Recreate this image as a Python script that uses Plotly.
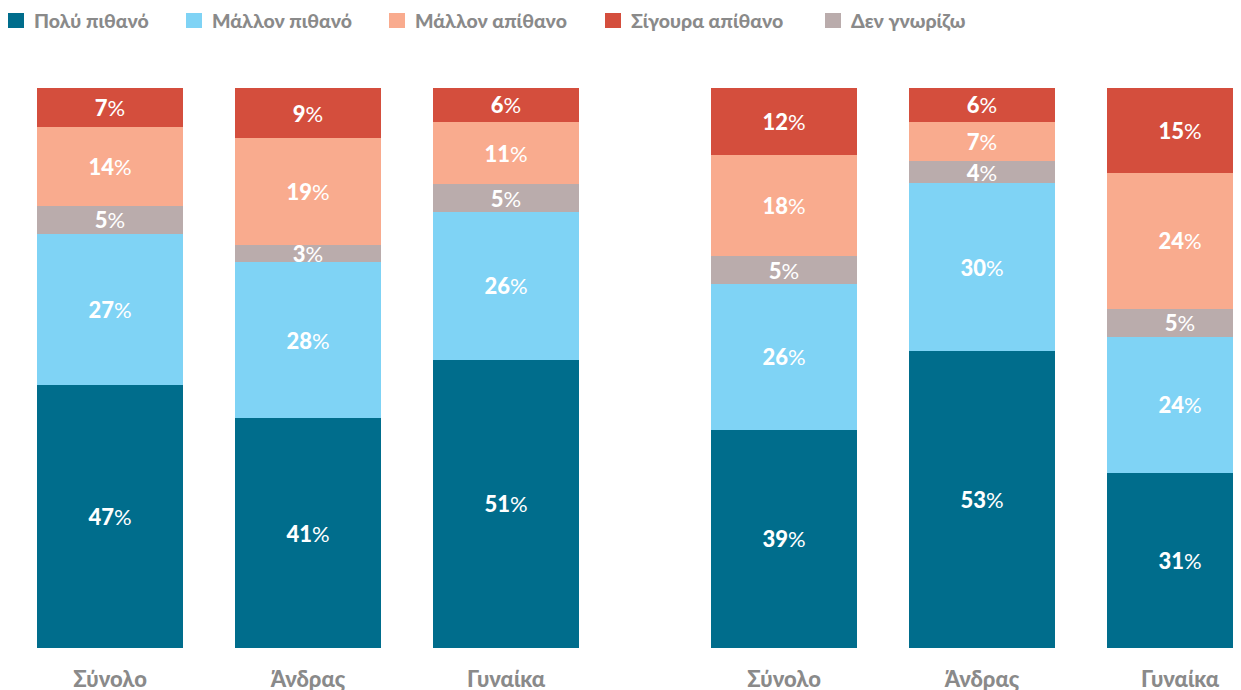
import plotly.graph_objects as go

# ---- data ----
groups = ["A", "B"]
categories = ["Σύνολο", "Άνδρας", "Γυναίκα"]
series_names = ["Πολύ πιθανό", "Μάλλον πιθανό", "Δεν γνωρίζω", "Μάλλον απίθανο", "Σίγουρα απίθανο"]
# values per bar (group A: Σύνολο, Άνδρας, Γυναίκα; group B: Σύνολο, Άνδρας, Γυναίκα)
poly_pithano = [47, 41, 51, 39, 53, 31]
mallon_pithano = [27, 28, 26, 26, 30, 24]
den_gnorizo = [5, 3, 5, 5, 4, 5]
mallon_apithano = [14, 19, 11, 18, 7, 24]
sigoura_apithano = [7, 9, 6, 12, 6, 15]

series_values = [poly_pithano, mallon_pithano, den_gnorizo, mallon_apithano, sigoura_apithano]
colors = ["#006D8C", "#7FD3F5", "#BAACAC", "#F9AB8E", "#D44E3D"]
# legend order (indices into series) and left pixel position of each legend entry
legend_order = [0, 1, 3, 4, 2]
legend_left_px = [0, 178, 381, 597, 817]

GROUP_STEP = 3.404
x_pos = [g * GROUP_STEP + i for g in range(len(groups)) for i in range(len(categories))]
x_labels = [c for g in groups for c in categories]

FONT = "Lato"
GREY = "#8A8A8A"
W, H = 1233, 682  # page body adds an 8px margin
T, B = 80, 42
PLOT_W, PLOT_H = W, H - T - B


def px_x(px):
    return px / PLOT_W


def px_y(py):
    return (T + PLOT_H - py) / PLOT_H


fig = go.Figure()
for name, vals, col in zip(series_names, series_values, colors):
    fig.add_trace(go.Bar(
        x=x_pos, y=vals, name=name, marker=dict(color=col, line=dict(width=0)),
        width=0.737,
        text=[f"<span style='font-weight:900'>{v}</span>%" for v in vals],
        textposition="inside", insidetextanchor="middle", textangle=0,
        textfont=dict(color="white", size=22, family=FONT),
        showlegend=False, hoverinfo="skip",
    ))

# legend drawn as squares + text
for idx, left in zip(legend_order, legend_left_px):
    fig.add_shape(type="rect", xref="paper", yref="paper",
                  x0=px_x(left), x1=px_x(left + 16), y0=px_y(20), y1=px_y(5),
                  fillcolor=colors[idx], line=dict(width=0), layer="above")
    fig.add_annotation(xref="paper", yref="paper", x=px_x(left + 24), y=px_y(12.5),
                       xanchor="left", yanchor="middle", showarrow=False,
                       text=series_names[idx],
                       font=dict(size=19.5, color=GREY, family=FONT, weight=900))

fig.update_layout(
    barmode="stack", barnorm="percent",
    width=W, height=H,
    margin=dict(l=0, r=0, t=T, b=B),
    paper_bgcolor="white", plot_bgcolor="white",
    uniformtext=dict(minsize=22, mode="show"),
    font=dict(family=FONT, color=GREY),
    showlegend=False,
    xaxis=dict(tickvals=x_pos, ticktext=x_labels, range=[-0.5152, 5.712],
               showgrid=False, zeroline=False, showline=False, automargin=False,
               ticks="outside", ticklen=12, tickcolor="rgba(0,0,0,0)",
               tickfont=dict(size=22, color=GREY, family=FONT, weight=900)),
    yaxis=dict(range=[0, 100], visible=False),
)

fig.write_html("out.html")
